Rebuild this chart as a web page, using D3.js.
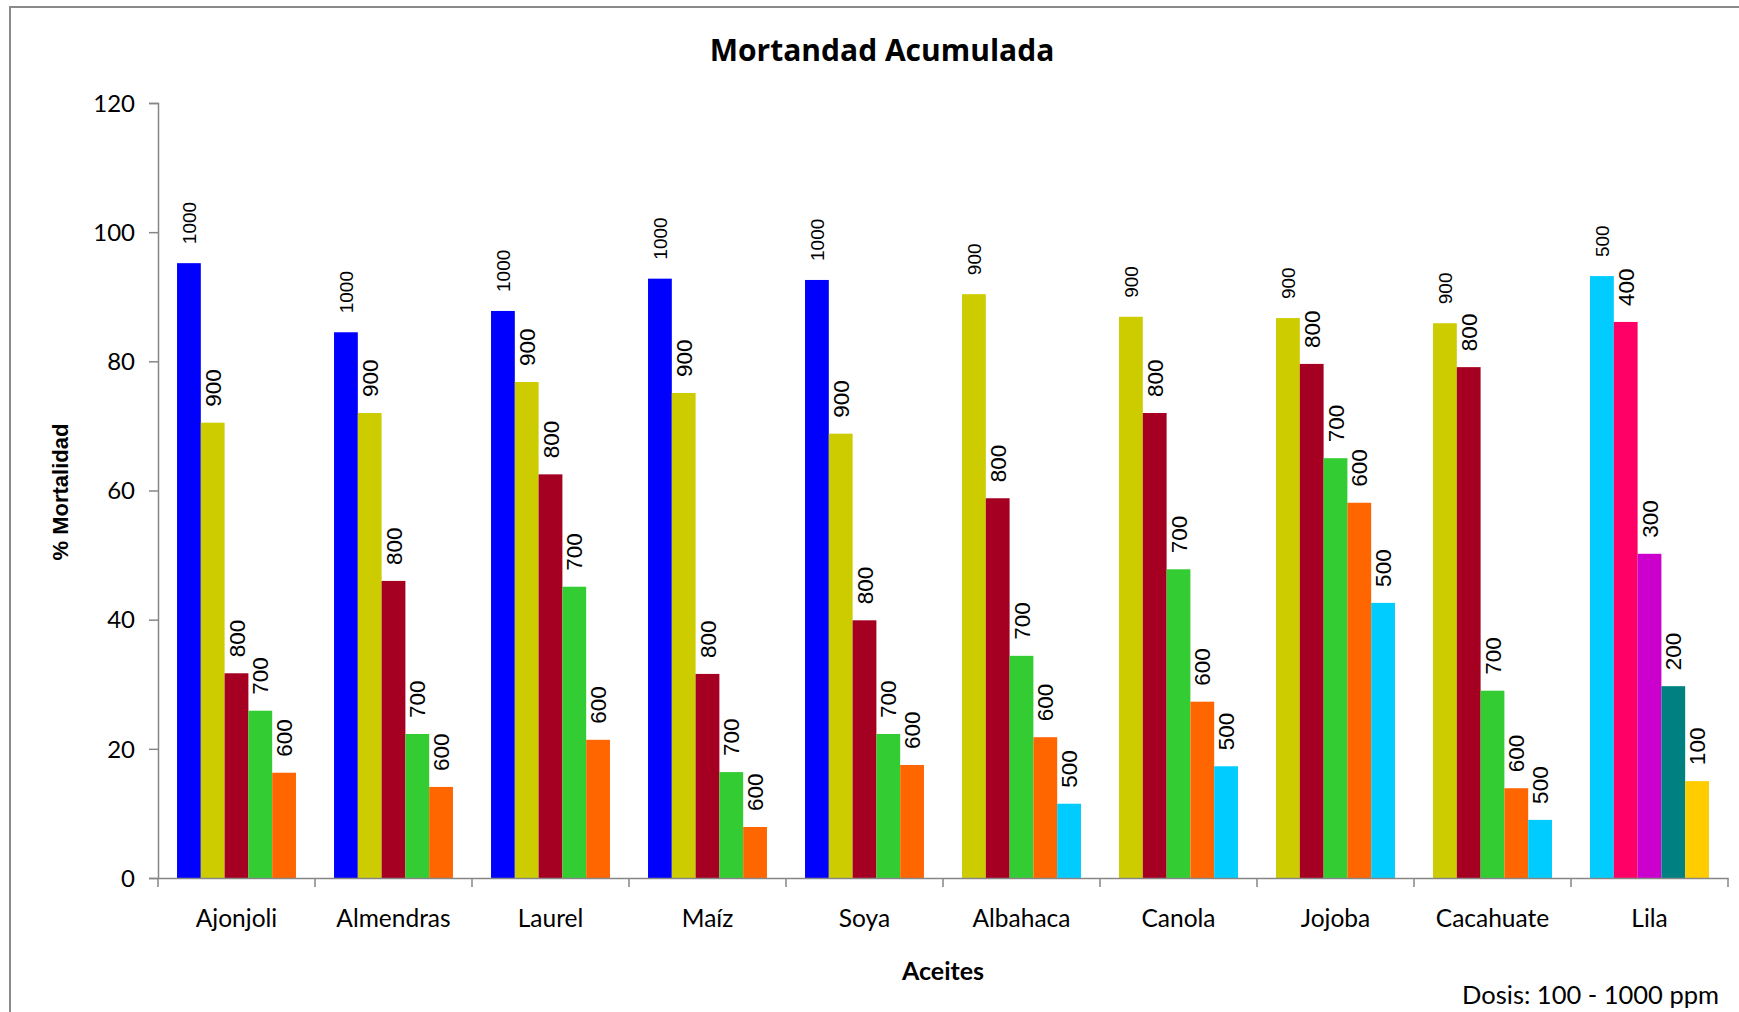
<!DOCTYPE html>
<html>
<head>
<meta charset="utf-8">
<script src="https://cdn.jsdelivr.net/npm/d3@7"></script>
<style>
  html, body { margin: 0; padding: 0; background: #ffffff; }
  svg { display: block; }
</style>
</head>
<body>
<svg id="chart" width="1739" height="1012"></svg>
<script>
// ---------------- DATA ----------------
const categories = ["Ajonjoli", "Almendras", "Laurel", "Maíz", "Soya", "Albahaca", "Canola", "Jojoba", "Cacahuate", "Lila"];

// Five bars per oil (Excel series 1..5); values are % mortality, labels are dose (ppm)
const series1Values = [95.2, 84.5, 87.8, 92.8, 92.6, 90.4, 86.9, 86.7, 85.9, 93.2];
const series2Values = [70.5, 72.0, 76.8, 75.1, 68.8, 58.8, 72.0, 79.6, 79.1, 86.1];
const series3Values = [31.7, 46.0, 62.5, 31.6, 39.9, 34.4, 47.8, 65.0, 29.0, 50.2];
const series4Values = [25.9, 22.3, 45.1, 16.4, 22.3, 21.8, 27.3, 58.1, 13.9, 29.7];
const series5Values = [16.3, 14.1, 21.4, 7.9, 17.5, 11.5, 17.3, 42.6, 9.0, 15.0];

const series1Doses = [1000, 1000, 1000, 1000, 1000, 900, 900, 900, 900, 500];
const series2Doses = [900, 900, 900, 900, 900, 800, 800, 800, 800, 400];
const series3Doses = [800, 800, 800, 800, 800, 700, 700, 700, 700, 300];
const series4Doses = [700, 700, 700, 700, 700, 600, 600, 600, 600, 200];
const series5Doses = [600, 600, 600, 600, 600, 500, 500, 500, 500, 100];

const doseLevels = [1000, 900, 800, 700, 600, 500, 400, 300, 200, 100];
const doseColors = ["#0000FF", "#CCCC00", "#A50021", "#33CC33", "#FF6600", "#00CCFF", "#FF0066", "#CC00CC", "#008080", "#FFCC00"];

const yTicks = [0, 20, 40, 60, 80, 100, 120];

const titleText = "Mortandad Acumulada";
const xTitle = "Aceites";
const yTitle = "% Mortalidad";
const noteText = "Dosis: 100 - 1000 ppm";

// ---------------- LAYOUT ----------------
const W = 1739, H = 1012;
const plot = { left: 158, right: 1728, top: 103, bottom: 878 };
const axisColor = "#868686";
const calibri = "Lato, 'Open Sans', sans-serif";
const arial = "'Liberation Sans', Arial, sans-serif";

const svg = d3.select("#chart");
svg.append("rect").attr("x", 0).attr("y", 0).attr("width", W).attr("height", H).attr("fill", "#ffffff");
// chart border (clipped at right & bottom as in reference)
svg.append("rect").attr("x", 10).attr("y", 7).attr("width", W + 20).attr("height", H + 20)
  .attr("fill", "none").attr("stroke", "#8a8a8a").attr("stroke-width", 2);

const seriesValues = [series1Values, series2Values, series3Values, series4Values, series5Values];
const seriesDoses = [series1Doses, series2Doses, series3Doses, series4Doses, series5Doses];

const x0 = d3.scaleBand().domain(categories).range([plot.left, plot.right]).padding(0);
const x1 = d3.scaleBand().domain(d3.range(5)).range([0, x0.bandwidth()]).paddingInner(0).paddingOuter(0.8);
const y = d3.scaleLinear().domain([0, 120]).range([plot.bottom, plot.top]);
const color = d3.scaleOrdinal().domain(doseLevels).range(doseColors);

const rows = [];
categories.forEach((c, ci) => {
  for (let s = 0; s < 5; s++) {
    rows.push({ cat: c, s: s, value: seriesValues[s][ci], dose: seriesDoses[s][ci] });
  }
});

// bars
svg.append("g").selectAll("rect").data(rows).join("rect")
  .attr("x", d => x0(d.cat) + x1(d.s))
  .attr("y", d => y(d.value))
  .attr("width", x1.bandwidth())
  .attr("height", d => y(0) - y(d.value))
  .attr("fill", d => color(d.dose));

// data labels (rotated)
svg.append("g").selectAll("text").data(rows).join("text")
  .attr("transform", d => {
    const cx = x0(d.cat) + x1(d.s) + x1.bandwidth() / 2;
    const cy = y(d.value) - (d.s === 0 ? 19 : 16);
    return `translate(${cx},${cy}) rotate(-90)`;
  })
  .attr("dy", "0.36em")
  .attr("text-anchor", "start")
  .attr("font-family", arial)
  .attr("font-size", d => d.s === 0 ? 19 : 22.5)
  .attr("fill", "#000")
  .text(d => d.dose);

// y axis
const yAxis = d3.axisLeft(y).tickValues(yTicks).tickSize(9).tickPadding(14).tickFormat(d3.format("d"));
const gy = svg.append("g").attr("transform", `translate(${plot.left},0)`).call(yAxis);
gy.select(".domain").attr("stroke", axisColor).attr("stroke-width", 1.5);
gy.selectAll(".tick line").attr("stroke", axisColor).attr("stroke-width", 1.5);
gy.selectAll(".tick text").attr("font-family", calibri).attr("font-size", 24).attr("fill", "#000").attr("dy", "0.34em");

// x axis
const xAxis = d3.axisBottom(x0).tickSize(0).tickPadding(32);
const gx = svg.append("g").attr("transform", `translate(0,${plot.bottom})`).call(xAxis);
gx.select(".domain").attr("stroke", axisColor).attr("stroke-width", 1.5);
gx.selectAll(".tick text").attr("font-family", calibri).attr("font-size", 24.5).attr("fill", "#000");
// category separator ticks
const sepPositions = categories.map(c => x0(c)).concat([x0.range()[1]]);
svg.append("g").selectAll("line").data(sepPositions).join("line")
  .attr("x1", d => d).attr("x2", d => d)
  .attr("y1", plot.bottom).attr("y2", plot.bottom + 9)
  .attr("stroke", axisColor).attr("stroke-width", 1.5);

// titles
svg.append("text").attr("x", 882).attr("y", 61).attr("text-anchor", "middle")
  .attr("font-family", "'Open Sans', Lato, sans-serif").attr("font-weight", "bold").attr("font-size", 30).attr("fill", "#000")
  .text(titleText);

svg.append("text").attr("x", (plot.left + plot.right) / 2).attr("y", 980).attr("text-anchor", "middle")
  .attr("font-family", calibri).attr("font-weight", "bold").attr("font-size", 25).attr("fill", "#000")
  .text(xTitle);

svg.append("text").attr("transform", `translate(68,492) rotate(-90)`).attr("text-anchor", "middle")
  .attr("font-family", arial).attr("font-weight", "bold").attr("font-size", 22).attr("fill", "#000")
  .text(yTitle);

svg.append("text").attr("x", 1719).attr("y", 1004).attr("text-anchor", "end")
  .attr("font-family", calibri).attr("font-size", 25.5).attr("fill", "#000")
  .text(noteText);
</script>
</body>
</html>
